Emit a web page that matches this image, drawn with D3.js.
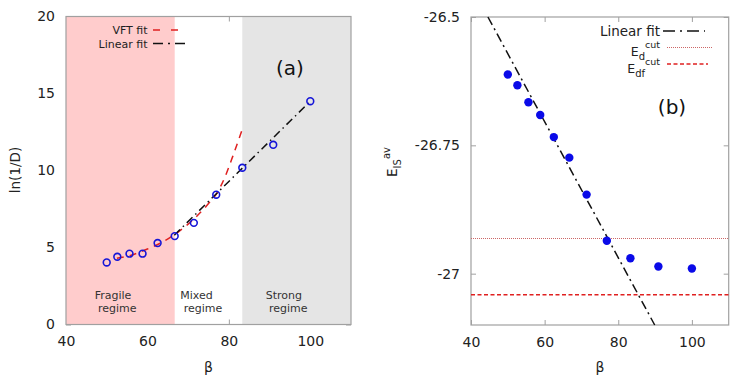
<!DOCTYPE html>
<html><head><meta charset="utf-8">
<script src="https://cdn.jsdelivr.net/npm/d3@7"></script>
<style>body{margin:0;background:#fff}svg{display:block}text{font-family:"DejaVu Sans",sans-serif}</style>
</head><body><svg id="c" width="756" height="378"></svg>
<script>
// ---------- data ----------
const beta = [50, 52.6, 55.6, 58.8, 62.5, 66.7, 71.4, 76.9, 83.3, 90.9, 100];
const lnInvD = [4.03, 4.4, 4.6, 4.6, 5.29, 5.74, 6.6, 8.43, 10.18, 11.67, 14.5];
const eisAv = [-26.612, -26.633, -26.666, -26.691, -26.734, -26.774, -26.846, -26.936, -26.970, -26.986, -26.990];
const vftBeta = [52.5, 56, 60, 64, 68, 72, 75, 77, 79, 81, 83.2];
const vftVal = [4.3, 4.5, 4.9, 5.4, 6.1, 7.0, 7.85, 8.5, 9.55, 10.95, 12.6];
const linFitABeta = [66.6, 100];
const linFitAVal = [5.8, 14.5];
const linFitBBeta = [44.6, 89.9];
const linFitBVal = [-26.5, -27.1];
const edCut = -26.930;
const edfCut = -27.041;
const regimeEdges = [40, 66.7, 83.3, 110];
const regimeNames = [["Fragile", "regime"], ["Mixed", "regime"], ["Strong", "regime"]];
const xTicks = [40, 60, 80, 100];
const yTicksA = [0, 5, 10, 15, 20];
const yTicksB = [-27, -26.75, -26.5];
const yTickLabelsB = ["-27", "-26.75", "-26.5"];

// ---------- drawing ----------
const svg = d3.select("#c");
const frameCol = "#a0a0a0", textCol = "#222";

function axes(g, x, y, yfmt) {
  const [x0, x1] = x.range(), [y0, y1] = y.range();
  const style = a => { a.select(".domain").remove(); a.selectAll("line").attr("stroke", frameCol); a.selectAll("text").attr("fill", textCol).style("font-size", "14px").style("font-family", "DejaVu Sans"); };
  g.append("g").attr("transform", `translate(0,${y0})`).call(d3.axisBottom(x).tickValues(xTicks).tickSize(-5).tickPadding(12)).call(style);
  g.append("g").attr("transform", `translate(0,${y1})`).call(d3.axisTop(x).tickValues(xTicks).tickSize(-5).tickFormat("")).call(style);
  const yt = yfmt.ticks;
  g.append("g").attr("transform", `translate(${x0},0)`).call(d3.axisLeft(y).tickValues(yt).tickSize(-5).tickPadding(11).tickFormat(yfmt.fmt)).call(style);
  g.append("g").attr("transform", `translate(${x1},0)`).call(d3.axisRight(y).tickValues(yt).tickSize(-5).tickFormat("")).call(style);
}
function frame(g, x, y) {
  const [x0, x1] = x.range(), [y0, y1] = y.range();
  g.append("rect").attr("x", x0).attr("y", y1).attr("width", x1 - x0).attr("height", y0 - y1)
    .attr("fill", "none").attr("stroke", frameCol).attr("stroke-width", 1.2);
}

// ----- panel (a) -----
const xA = d3.scaleLinear([40, 110], [66, 351]);
const yA = d3.scaleLinear([0, 20], [324.5, 16.5]);
const gA = svg.append("g");
axes(gA, xA, yA, {ticks: yTicksA, fmt: d3.format("d")});
const fills = ["#ffcccc", "none", "#e5e5e5"];
regimeEdges.slice(0, 3).forEach((e, i) => {
  if (fills[i] === "none") return;
  gA.append("rect").attr("x", xA(e)).attr("y", yA(20)).attr("width", xA(regimeEdges[i + 1]) - xA(e))
    .attr("height", yA(0) - yA(20)).attr("fill", fills[i]);
});
frame(gA, xA, yA);
const lab = [[94.7, 98], [180.3, 183.7], [265.7, 269]];
regimeNames.forEach((nm, i) => {
  gA.append("text").attr("x", lab[i][0]).attr("y", 298.5).attr("fill", "#333").style("font-size", "11px").text(nm[0]);
  gA.append("text").attr("x", lab[i][1]).attr("y", 311.5).attr("fill", "#333").style("font-size", "11px").text(nm[1]);
});
const lineA = d3.line().x(d => xA(d[0])).y(d => yA(d[1]));
gA.append("path").datum(vftBeta.map((b, i) => [b, vftVal[i]]))
  .attr("d", lineA.curve(d3.curveMonotoneX)).attr("fill", "none").attr("stroke", "#e02020").attr("stroke-width", 1.5).attr("stroke-dasharray", "7,6");
gA.append("path").datum(linFitABeta.map((b, i) => [b, linFitAVal[i]]))
  .attr("d", d3.line().x(d => xA(d[0])).y(d => yA(d[1]))).attr("fill", "none").attr("stroke", "#111").attr("stroke-width", 1.5).attr("stroke-dasharray", "8,4,1.5,4");
gA.selectAll("circle.p").data(beta.map((b, i) => [b, lnInvD[i]])).join("circle")
  .attr("cx", d => xA(d[0])).attr("cy", d => yA(d[1])).attr("r", 3.4)
  .attr("fill", "none").attr("stroke", "#1515d8").attr("stroke-width", 1.6);
// legend (a)
gA.append("text").attr("x", 147.5).attr("y", 34).attr("text-anchor", "end").attr("fill", textCol).style("font-size", "11px").text("VFT fit");
gA.append("line").attr("x1", 153).attr("x2", 178).attr("y1", 30).attr("y2", 30).attr("stroke", "#e02020").attr("stroke-width", 1.5).attr("stroke-dasharray", "7,11");
gA.append("text").attr("x", 147.5).attr("y", 47.5).attr("text-anchor", "end").attr("fill", textCol).style("font-size", "11px").text("Linear fit");
gA.append("line").attr("x1", 153).attr("x2", 188).attr("y1", 43.5).attr("y2", 43.5).attr("stroke", "#111").attr("stroke-width", 1.5).attr("stroke-dasharray", "10,5,2,5");
gA.append("text").attr("x", 290).attr("y", 75).attr("text-anchor", "middle").attr("fill", "#111").style("font-size", "20px").text("(a)");
gA.append("text").attr("x", 208.5).attr("y", 372).attr("text-anchor", "middle").attr("fill", textCol).style("font-size", "14px").text("β");
gA.append("text").attr("transform", "translate(20,170) rotate(-90)").attr("text-anchor", "middle").attr("fill", textCol).style("font-size", "13.5px").text("ln(1/D)");

// ----- panel (b) -----
const xB = d3.scaleLinear([40, 110], [471, 728.7]);
const yB = d3.scaleLinear([-27.1, -26.5], [325, 17]);
const gB = svg.append("g");
axes(gB, xB, yB, {ticks: yTicksB, fmt: (d, i) => yTickLabelsB[yTicksB.indexOf(d)]});
frame(gB, xB, yB);
const edY = Math.round(yB(edCut)) + 0.5;
gB.append("line").attr("x1", xB(40)).attr("x2", xB(110)).attr("y1", edY).attr("y2", edY)
  .attr("stroke", "#cc6666").attr("stroke-width", 1).attr("stroke-dasharray", "1,1");
gB.append("line").attr("x1", xB(40)).attr("x2", xB(110)).attr("y1", yB(edfCut)).attr("y2", yB(edfCut))
  .attr("stroke", "#e02020").attr("stroke-width", 1.5).attr("stroke-dasharray", "4,2.5");
gB.append("path").datum(linFitBBeta.map((b, i) => [b, linFitBVal[i]]))
  .attr("d", d3.line().x(d => xB(d[0])).y(d => yB(d[1]))).attr("fill", "none").attr("stroke", "#111").attr("stroke-width", 1.5).attr("stroke-dasharray", "9,4,2,4");
gB.selectAll("circle.p").data(beta.map((b, i) => [b, eisAv[i]])).join("circle")
  .attr("cx", d => xB(d[0])).attr("cy", d => yB(d[1])).attr("r", 4.2).attr("fill", "#0a0ae8");
// legend (b)
gB.append("text").attr("x", 660).attr("y", 35.5).attr("text-anchor", "end").attr("fill", textCol).style("font-size", "13.5px").text("Linear fit");
gB.append("line").attr("x1", 663).attr("x2", 705).attr("y1", 31).attr("y2", 31).attr("stroke", "#111").attr("stroke-width", 1.5).attr("stroke-dasharray", "12,5,2,5");
const t1 = gB.append("text").attr("x", 660).attr("y", 56).attr("text-anchor", "end").attr("fill", textCol).style("font-size", "12.5px");
t1.append("tspan").text("E");
t1.append("tspan").attr("dy", 3.5).style("font-size", "10px").text("d");
t1.append("tspan").attr("dy", -11.5).style("font-size", "9.5px").text("cut");
gB.append("line").attr("x1", 667).attr("x2", 712).attr("y1", 47.5).attr("y2", 47.5).attr("stroke", "#cc6666").attr("stroke-width", 1).attr("stroke-dasharray", "1,1");
const t2 = gB.append("text").attr("x", 660).attr("y", 73).attr("text-anchor", "end").attr("fill", textCol).style("font-size", "12.5px");
t2.append("tspan").text("E");
t2.append("tspan").attr("dy", 3.5).style("font-size", "10px").text("df");
t2.append("tspan").attr("dy", -11.5).style("font-size", "9.5px").text("cut");
gB.append("line").attr("x1", 667).attr("x2", 708).attr("y1", 64).attr("y2", 64).attr("stroke", "#e02020").attr("stroke-width", 1.5).attr("stroke-dasharray", "4,2.5");
gB.append("text").attr("x", 672).attr("y", 114).attr("text-anchor", "middle").attr("fill", "#111").style("font-size", "20px").text("(b)");
gB.append("text").attr("x", 600).attr("y", 372).attr("text-anchor", "middle").attr("fill", textCol).style("font-size", "14px").text("β");
const yl = gB.append("text").attr("transform", "translate(397,162) rotate(-90)").attr("text-anchor", "middle").attr("fill", textCol).style("font-size", "13.5px");
yl.append("tspan").text("E");
yl.append("tspan").attr("dy", 4).style("font-size", "10px").text("IS");
yl.append("tspan").attr("dy", -11).style("font-size", "10px").text("av");
</script></body></html>
